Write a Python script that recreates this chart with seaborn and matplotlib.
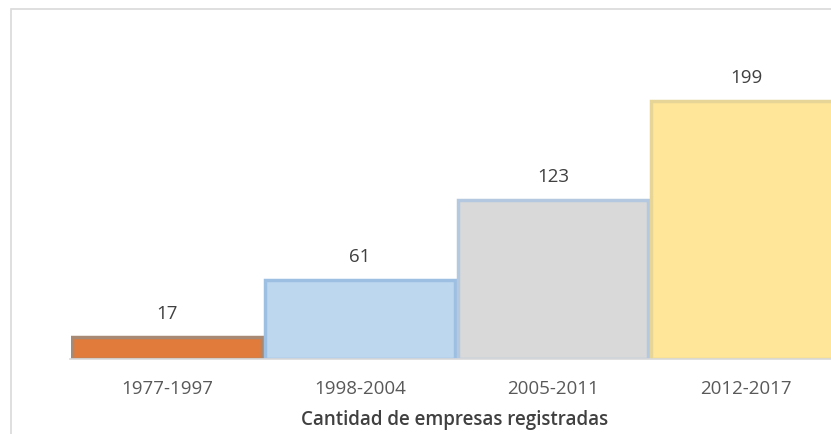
import matplotlib
matplotlib.use("Agg")
import matplotlib.pyplot as plt
import seaborn as sns
import pandas as pd
from matplotlib.patches import Rectangle

categories = ["1977-1997", "1998-2004", "2005-2011", "2012-2017"]
values = [17, 61, 123, 199]
title = "Cantidad de empresas registradas"

fill_colors = ["#e07b3c", "#bdd7ee", "#d9d9d9", "#ffe699"]
edge_colors = ["#a88a74", "#9dbfe2", "#b4c8e0", "#e6d597"]

sns.set_theme(style="white")
plt.rcParams["font.family"] = ["Open Sans", "DejaVu Sans"]

W, H = 831, 434
fig = plt.figure(figsize=(W / 100, H / 100), dpi=100)
fig.patch.set_facecolor("white")

# chart area border (cropped at right/bottom)
fig.patches.append(Rectangle((11 / W, -0.1), 1.2, 1 - 9 / H + 0.1,
                             transform=fig.transFigure, fill=False,
                             edgecolor="#d9d9d9", linewidth=1.2))

left_px, right_px = 70.5, 831
base_px, top_px = 359, 61
ax = fig.add_axes([left_px / W, (H - base_px) / H,
                   (right_px - left_px) / W, (base_px - top_px) / H])

df = pd.DataFrame({"periodo": categories, "empresas": values})
sns.barplot(data=df, x="periodo", y="empresas", hue="periodo",
            palette=fill_colors, width=0.985, legend=False, ax=ax,
            saturation=1)

for patch, ec in zip(ax.patches, edge_colors):
    patch.set_edgecolor(ec)
    patch.set_linewidth(2.5)

ax.set_xlim(-0.5, (right_px - left_px) / 193 - 0.5)
ax.set_ylim(0, 230)
ax.set_yticks([])
ax.set_xlabel("")
ax.set_ylabel("")
for s in ["top", "right", "left"]:
    ax.spines[s].set_visible(False)
ax.spines["bottom"].set_color("#d9d9d9")
ax.spines["bottom"].set_linewidth(1.2)
ax.tick_params(axis="x", length=0, pad=15, labelsize=13.5, labelcolor="#595959")

for i, v in enumerate(values):
    ax.annotate(str(v), (i, v), xytext=(0, 16.5), textcoords="offset points",
                ha="center", va="center", fontsize=13.5, color="#404040")

fig.text(455 / W, 1 - 420 / H, title, ha="center", va="center",
         fontsize=13.5, color="#404040", fontweight="semibold")

fig.savefig("out.png", dpi=100)
